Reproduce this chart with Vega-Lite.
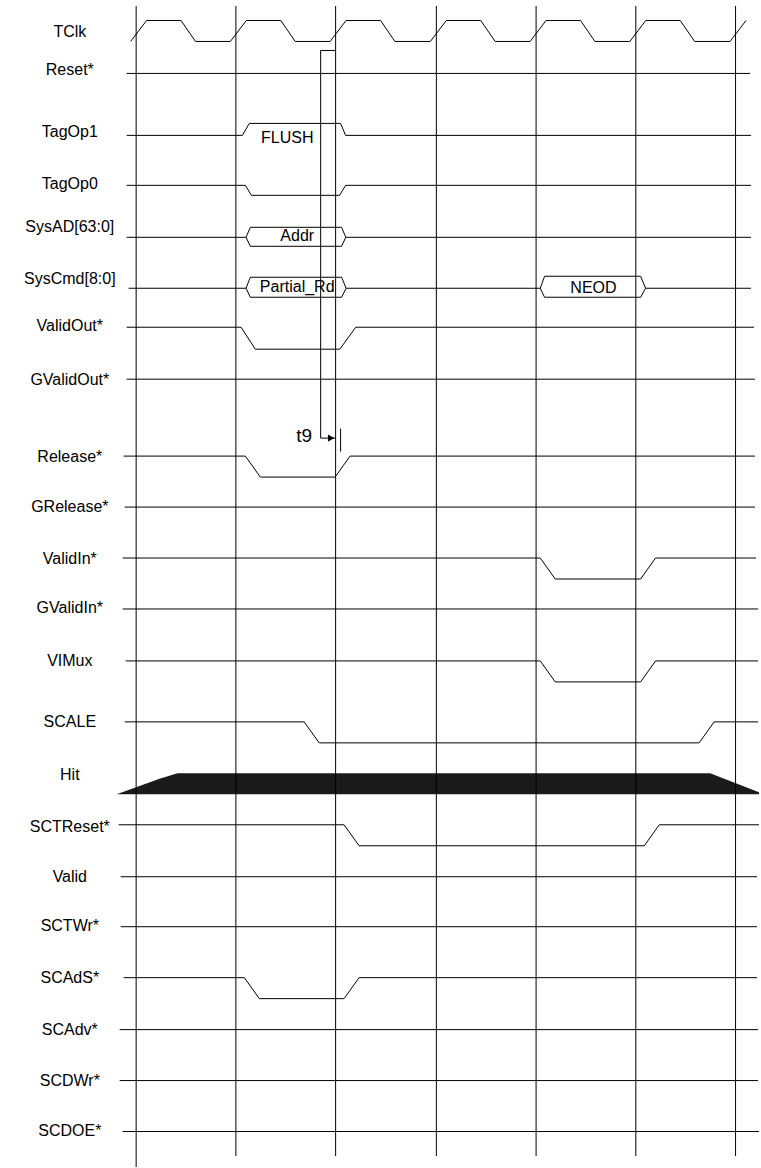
{
  "$schema": "https://vega.github.io/schema/vega-lite/v6.json",
  "width": 761,
  "height": 1168,
  "autosize": {"type": "fit", "contains": "padding"},
  "padding": 0,
  "background": "white",
  "config": {"view": {"stroke": null}},
  "datasets": {
    "grid": [
      {"x": 136.5, "y": 6, "y2": 1168},
      {"x": 236.5, "y": 6, "y2": 1157},
      {"x": 336.5, "y": 6, "y2": 1157},
      {"x": 437.5, "y": 6, "y2": 1157},
      {"x": 537.5, "y": 6, "y2": 1157},
      {"x": 637.5, "y": 6, "y2": 1157},
      {"x": 737.5, "y": 6, "y2": 1157},
      {"x": 341.5, "y": 429, "y2": 452}
    ],
    "wave": [
      {"s": "TClk", "i": 0, "x": 131, "y": 41.5},
      {"s": "TClk", "i": 1, "x": 147, "y": 20.5},
      {"s": "TClk", "i": 2, "x": 181.5, "y": 20.5},
      {"s": "TClk", "i": 3, "x": 196, "y": 41.5},
      {"s": "TClk", "i": 4, "x": 231, "y": 41.5},
      {"s": "TClk", "i": 5, "x": 247, "y": 20.5},
      {"s": "TClk", "i": 6, "x": 281.5, "y": 20.5},
      {"s": "TClk", "i": 7, "x": 296, "y": 41.5},
      {"s": "TClk", "i": 8, "x": 331, "y": 41.5},
      {"s": "TClk", "i": 9, "x": 347, "y": 20.5},
      {"s": "TClk", "i": 10, "x": 381.5, "y": 20.5},
      {"s": "TClk", "i": 11, "x": 396, "y": 41.5},
      {"s": "TClk", "i": 12, "x": 431.5, "y": 41.5},
      {"s": "TClk", "i": 13, "x": 447.5, "y": 20.5},
      {"s": "TClk", "i": 14, "x": 482, "y": 20.5},
      {"s": "TClk", "i": 15, "x": 496.5, "y": 41.5},
      {"s": "TClk", "i": 16, "x": 531.5, "y": 41.5},
      {"s": "TClk", "i": 17, "x": 547.5, "y": 20.5},
      {"s": "TClk", "i": 18, "x": 582, "y": 20.5},
      {"s": "TClk", "i": 19, "x": 596.5, "y": 41.5},
      {"s": "TClk", "i": 20, "x": 631.5, "y": 41.5},
      {"s": "TClk", "i": 21, "x": 647.5, "y": 20.5},
      {"s": "TClk", "i": 22, "x": 682, "y": 20.5},
      {"s": "TClk", "i": 23, "x": 696.5, "y": 41.5},
      {"s": "TClk", "i": 24, "x": 732, "y": 41.5},
      {"s": "TClk", "i": 25, "x": 748, "y": 20.5},
      {"s": "Reset", "i": 0, "x": 127, "y": 73.5},
      {"s": "Reset", "i": 1, "x": 752, "y": 73.5},
      {"s": "TagOp1", "i": 0, "x": 127, "y": 135.5},
      {"s": "TagOp1", "i": 1, "x": 243, "y": 135.5},
      {"s": "TagOp1", "i": 2, "x": 250, "y": 123.5},
      {"s": "TagOp1", "i": 3, "x": 341.5, "y": 123.5},
      {"s": "TagOp1", "i": 4, "x": 346.5, "y": 135.5},
      {"s": "TagOp1", "i": 5, "x": 753, "y": 135.5},
      {"s": "TagOp0", "i": 0, "x": 127, "y": 185.5},
      {"s": "TagOp0", "i": 1, "x": 246, "y": 185.5},
      {"s": "TagOp0", "i": 2, "x": 252, "y": 195.5},
      {"s": "TagOp0", "i": 3, "x": 340.5, "y": 195.5},
      {"s": "TagOp0", "i": 4, "x": 346.5, "y": 185.5},
      {"s": "TagOp0", "i": 5, "x": 753, "y": 185.5},
      {"s": "SysADt", "i": 0, "x": 127, "y": 237.5},
      {"s": "SysADt", "i": 1, "x": 246.7, "y": 237.5},
      {"s": "SysADt", "i": 2, "x": 251, "y": 227.5},
      {"s": "SysADt", "i": 3, "x": 342.5, "y": 227.5},
      {"s": "SysADt", "i": 4, "x": 346.7, "y": 237.5},
      {"s": "SysADt", "i": 5, "x": 753, "y": 237.5},
      {"s": "SysADb", "i": 0, "x": 246.7, "y": 237.5},
      {"s": "SysADb", "i": 1, "x": 251, "y": 246.5},
      {"s": "SysADb", "i": 2, "x": 342.5, "y": 246.5},
      {"s": "SysADb", "i": 3, "x": 346.7, "y": 237.5},
      {"s": "SysCmdt", "i": 0, "x": 129, "y": 288.5},
      {"s": "SysCmdt", "i": 1, "x": 246.7, "y": 288.5},
      {"s": "SysCmdt", "i": 2, "x": 251, "y": 277.5},
      {"s": "SysCmdt", "i": 3, "x": 342.5, "y": 277.5},
      {"s": "SysCmdt", "i": 4, "x": 347, "y": 288.5},
      {"s": "SysCmdt", "i": 5, "x": 541.7, "y": 288.5},
      {"s": "SysCmdt", "i": 6, "x": 546, "y": 276.5},
      {"s": "SysCmdt", "i": 7, "x": 642.3, "y": 276.5},
      {"s": "SysCmdt", "i": 8, "x": 647.3, "y": 288.5},
      {"s": "SysCmdt", "i": 9, "x": 753, "y": 288.5},
      {"s": "SysCmdb1", "i": 0, "x": 246.7, "y": 288.5},
      {"s": "SysCmdb1", "i": 1, "x": 251, "y": 297.5},
      {"s": "SysCmdb1", "i": 2, "x": 342.5, "y": 297.5},
      {"s": "SysCmdb1", "i": 3, "x": 347, "y": 288.5},
      {"s": "SysCmdb2", "i": 0, "x": 541.7, "y": 288.5},
      {"s": "SysCmdb2", "i": 1, "x": 546, "y": 297.5},
      {"s": "SysCmdb2", "i": 2, "x": 642.3, "y": 297.5},
      {"s": "SysCmdb2", "i": 3, "x": 647.3, "y": 288.5},
      {"s": "ValidOut", "i": 0, "x": 127, "y": 327.5},
      {"s": "ValidOut", "i": 1, "x": 241.7, "y": 327.5},
      {"s": "ValidOut", "i": 2, "x": 256, "y": 349.5},
      {"s": "ValidOut", "i": 3, "x": 340.7, "y": 349.5},
      {"s": "ValidOut", "i": 4, "x": 356.7, "y": 327.5},
      {"s": "ValidOut", "i": 5, "x": 756, "y": 327.5},
      {"s": "GValidOut", "i": 0, "x": 127, "y": 379.5},
      {"s": "GValidOut", "i": 1, "x": 757, "y": 379.5},
      {"s": "Release", "i": 0, "x": 124, "y": 456.5},
      {"s": "Release", "i": 1, "x": 246, "y": 456.5},
      {"s": "Release", "i": 2, "x": 261, "y": 477.5},
      {"s": "Release", "i": 3, "x": 336, "y": 477.5},
      {"s": "Release", "i": 4, "x": 351, "y": 456.5},
      {"s": "Release", "i": 5, "x": 757, "y": 456.5},
      {"s": "GRelease", "i": 0, "x": 125, "y": 507.5},
      {"s": "GRelease", "i": 1, "x": 757, "y": 507.5},
      {"s": "ValidIn", "i": 0, "x": 123, "y": 558.5},
      {"s": "ValidIn", "i": 1, "x": 541.7, "y": 558.5},
      {"s": "ValidIn", "i": 2, "x": 556.7, "y": 579.5},
      {"s": "ValidIn", "i": 3, "x": 642.3, "y": 579.5},
      {"s": "ValidIn", "i": 4, "x": 657.3, "y": 558.5},
      {"s": "ValidIn", "i": 5, "x": 758, "y": 558.5},
      {"s": "GValidIn", "i": 0, "x": 123, "y": 609.5},
      {"s": "GValidIn", "i": 1, "x": 760, "y": 609.5},
      {"s": "VIMux", "i": 0, "x": 126, "y": 661.5},
      {"s": "VIMux", "i": 1, "x": 541.7, "y": 661.5},
      {"s": "VIMux", "i": 2, "x": 556.7, "y": 682.5},
      {"s": "VIMux", "i": 3, "x": 642.3, "y": 682.5},
      {"s": "VIMux", "i": 4, "x": 657.3, "y": 661.5},
      {"s": "VIMux", "i": 5, "x": 760, "y": 661.5},
      {"s": "SCALE", "i": 0, "x": 125, "y": 722.5},
      {"s": "SCALE", "i": 1, "x": 305, "y": 722.5},
      {"s": "SCALE", "i": 2, "x": 320, "y": 743.5},
      {"s": "SCALE", "i": 3, "x": 701, "y": 743.5},
      {"s": "SCALE", "i": 4, "x": 716, "y": 722.5},
      {"s": "SCALE", "i": 5, "x": 760, "y": 722.5},
      {"s": "SCTReset", "i": 0, "x": 119, "y": 825.5},
      {"s": "SCTReset", "i": 1, "x": 345, "y": 825.5},
      {"s": "SCTReset", "i": 2, "x": 360, "y": 846.5},
      {"s": "SCTReset", "i": 3, "x": 646, "y": 846.5},
      {"s": "SCTReset", "i": 4, "x": 661, "y": 825.5},
      {"s": "SCTReset", "i": 5, "x": 761, "y": 825.5},
      {"s": "Valid", "i": 0, "x": 121, "y": 877.5},
      {"s": "Valid", "i": 1, "x": 759, "y": 877.5},
      {"s": "SCTWr", "i": 0, "x": 121, "y": 927.5},
      {"s": "SCTWr", "i": 1, "x": 759, "y": 927.5},
      {"s": "SCAdS", "i": 0, "x": 124, "y": 978.5},
      {"s": "SCAdS", "i": 1, "x": 245, "y": 978.5},
      {"s": "SCAdS", "i": 2, "x": 260, "y": 999.5},
      {"s": "SCAdS", "i": 3, "x": 345, "y": 999.5},
      {"s": "SCAdS", "i": 4, "x": 360, "y": 978.5},
      {"s": "SCAdS", "i": 5, "x": 759, "y": 978.5},
      {"s": "SCAdv", "i": 0, "x": 120, "y": 1030.5},
      {"s": "SCAdv", "i": 1, "x": 760, "y": 1030.5},
      {"s": "SCDWr", "i": 0, "x": 120, "y": 1081.5},
      {"s": "SCDWr", "i": 1, "x": 760, "y": 1081.5},
      {"s": "SCDOE", "i": 0, "x": 123, "y": 1132.5},
      {"s": "SCDOE", "i": 1, "x": 761, "y": 1132.5},
      {"s": "t9", "i": 0, "x": 336.5, "y": 50.5},
      {"s": "t9", "i": 1, "x": 321.5, "y": 50.5},
      {"s": "t9", "i": 2, "x": 321.5, "y": 438.5},
      {"s": "t9", "i": 3, "x": 336, "y": 438.5}
    ],
    "hit": [
      {"x": 117, "y": 795, "y2": 795},
      {"x": 160, "y": 779.5, "y2": 795},
      {"x": 178, "y": 774, "y2": 795},
      {"x": 712, "y": 774, "y2": 795},
      {"x": 761, "y": 793, "y2": 795}
    ],
    "arrow": [{"x": 332, "y": 438.5}],
    "labels": [
      {"name": "TClk", "y": 32},
      {"name": "Reset*", "y": 70},
      {"name": "TagOp1", "y": 132},
      {"name": "TagOp0", "y": 184},
      {"name": "SysAD[63:0]", "y": 227},
      {"name": "SysCmd[8:0]", "y": 279},
      {"name": "ValidOut*", "y": 326},
      {"name": "GValidOut*", "y": 380},
      {"name": "Release*", "y": 457},
      {"name": "GRelease*", "y": 507},
      {"name": "ValidIn*", "y": 559},
      {"name": "GValidIn*", "y": 609},
      {"name": "VIMux", "y": 662},
      {"name": "SCALE", "y": 723},
      {"name": "Hit", "y": 776},
      {"name": "SCTReset*", "y": 828},
      {"name": "Valid", "y": 878},
      {"name": "SCTWr*", "y": 927},
      {"name": "SCAdS*", "y": 979},
      {"name": "SCAdv*", "y": 1031},
      {"name": "SCDWr*", "y": 1082},
      {"name": "SCDOE*", "y": 1132}
    ],
    "bus": [
      {"text": "FLUSH", "x": 288, "y": 138},
      {"text": "Addr", "x": 298, "y": 236},
      {"text": "Partial_Rd", "x": 298, "y": 287},
      {"text": "NEOD", "x": 595, "y": 288}
    ],
    "note": [{"text": "t9", "x": 305, "y": 436}]
  },
  "layer": [
    {
      "data": {"name": "hit"},
      "mark": {"type": "area", "color": "#1a1a1a", "opacity": 1},
      "encoding": {
        "x": {"field": "x", "type": "quantitative", "scale": {"domain": [0, 761], "nice": false, "zero": false}, "axis": null},
        "y": {"field": "y", "type": "quantitative", "scale": {"domain": [0, 1168], "nice": false, "zero": false, "reverse": true}, "axis": null},
        "y2": {"field": "y2"}
      }
    },
    {
      "data": {"name": "grid"},
      "mark": {"type": "rule", "color": "black", "strokeWidth": 1},
      "encoding": {
        "x": {"field": "x", "type": "quantitative", "scale": {"domain": [0, 761], "nice": false, "zero": false}, "axis": null},
        "y": {"field": "y", "type": "quantitative", "scale": {"domain": [0, 1168], "nice": false, "zero": false, "reverse": true}, "axis": null},
        "y2": {"field": "y2"}
      }
    },
    {
      "data": {"name": "wave"},
      "mark": {"type": "line", "color": "black", "strokeWidth": 1},
      "encoding": {
        "x": {"field": "x", "type": "quantitative", "scale": {"domain": [0, 761], "nice": false, "zero": false}, "axis": null},
        "y": {"field": "y", "type": "quantitative", "scale": {"domain": [0, 1168], "nice": false, "zero": false, "reverse": true}, "axis": null},
        "detail": {"field": "s", "type": "nominal"},
        "order": {"field": "i", "type": "quantitative"}
      }
    },
    {
      "data": {"name": "arrow"},
      "mark": {"type": "point", "shape": "triangle-right", "filled": true, "color": "black", "size": 55, "opacity": 1},
      "encoding": {
        "x": {"field": "x", "type": "quantitative", "scale": {"domain": [0, 761], "nice": false, "zero": false}, "axis": null},
        "y": {"field": "y", "type": "quantitative", "scale": {"domain": [0, 1168], "nice": false, "zero": false, "reverse": true}, "axis": null}
      }
    },
    {
      "data": {"name": "labels"},
      "mark": {"type": "text", "font": "Liberation Sans", "fontSize": 16, "color": "black", "align": "center", "baseline": "middle"},
      "encoding": {
        "x": {"datum": 70, "type": "quantitative", "scale": {"domain": [0, 761], "nice": false, "zero": false}, "axis": null},
        "y": {"field": "y", "type": "quantitative", "scale": {"domain": [0, 1168], "nice": false, "zero": false, "reverse": true}, "axis": null},
        "text": {"field": "name", "type": "nominal"}
      }
    },
    {
      "data": {"name": "bus"},
      "mark": {"type": "text", "font": "Liberation Sans", "fontSize": 16, "color": "black", "align": "center", "baseline": "middle"},
      "encoding": {
        "x": {"field": "x", "type": "quantitative", "scale": {"domain": [0, 761], "nice": false, "zero": false}, "axis": null},
        "y": {"field": "y", "type": "quantitative", "scale": {"domain": [0, 1168], "nice": false, "zero": false, "reverse": true}, "axis": null},
        "text": {"field": "text", "type": "nominal"}
      }
    },
    {
      "data": {"name": "note"},
      "mark": {"type": "text", "font": "Liberation Sans", "fontSize": 19, "color": "black", "align": "center", "baseline": "middle"},
      "encoding": {
        "x": {"field": "x", "type": "quantitative", "scale": {"domain": [0, 761], "nice": false, "zero": false}, "axis": null},
        "y": {"field": "y", "type": "quantitative", "scale": {"domain": [0, 1168], "nice": false, "zero": false, "reverse": true}, "axis": null},
        "text": {"field": "text", "type": "nominal"}
      }
    }
  ]
}
